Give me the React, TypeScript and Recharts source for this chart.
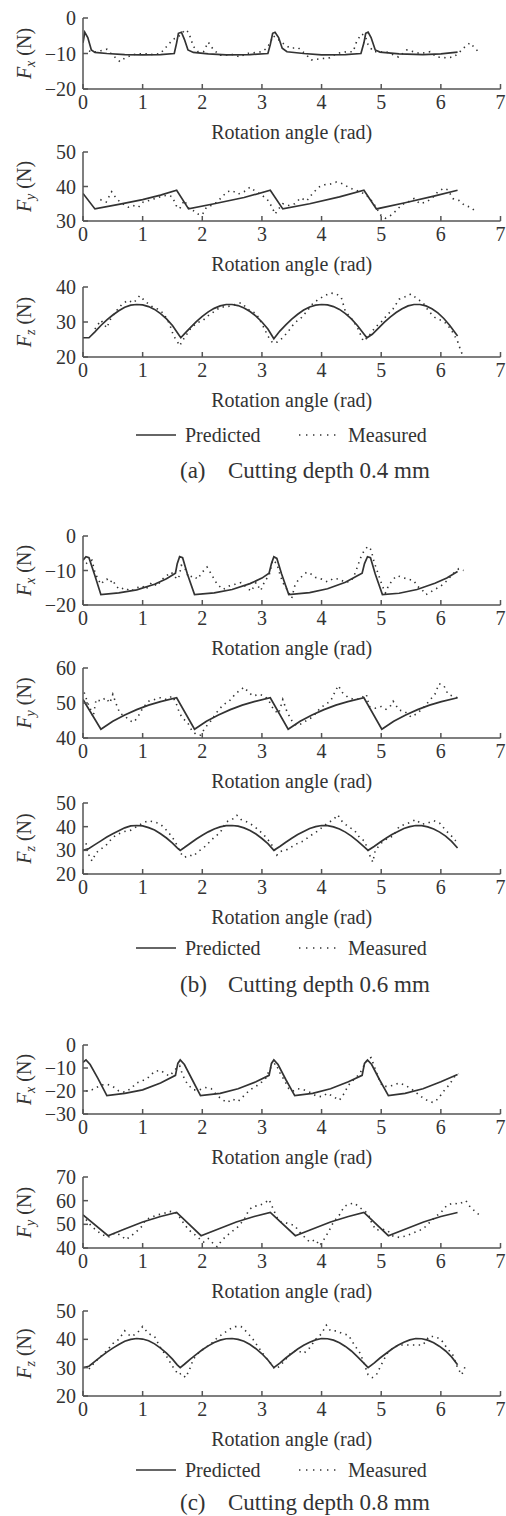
import React from "react";
import { Line, LineChart, XAxis, YAxis } from "recharts";

type Pt = [number, number];

const FONT = '"Liberation Serif", "Times New Roman", serif';
const INK = "#333";
const AXIS = "#555";

const angleTicks = [0, 1, 2, 3, 4, 5, 6, 7];
const xTitle = "Rotation angle (rad)";
const legendNames = ["Predicted", "Measured"];
const captions = [
  ["(a)", "Cutting depth 0.4 mm"],
  ["(b)", "Cutting depth 0.6 mm"],
  ["(c)", "Cutting depth 0.8 mm"],
];

// ---- depth 0.4 mm ----
const aFxPredicted: Pt[] = [
  [0, -7], [0.03, -4], [0.08, -5.5], [0.14, -9], [0.2, -9.7], [0.4, -10], [0.7, -10.3], [1.0, -10.4],
  [1.3, -10.3], [1.53, -10], [1.57, -7], [1.6, -4.3], [1.65, -4], [1.7, -6], [1.76, -9], [1.85, -9.7],
  [2.1, -10.1], [2.4, -10.4], [2.8, -10.3], [3.1, -10], [3.14, -7.5], [3.18, -4.3], [3.22, -4], [3.28, -5.5],
  [3.34, -8.5], [3.42, -9.5], [3.7, -10], [4.0, -10.4], [4.4, -10.3], [4.66, -10], [4.71, -7], [4.74, -4.3],
  [4.78, -4], [4.83, -5.5], [4.9, -9], [4.98, -9.6], [5.3, -10.1], [5.7, -10.3], [6.0, -10.1], [6.28, -9.6],
];
const aFxMeasured: Pt[] = [
  [0.1, -9.3], [0.2, -9.6], [0.3, -9.2], [0.4, -8.8], [0.5, -10.5], [0.62, -12.3], [0.7, -11.3], [0.84, -10.3],
  [1.0, -10], [1.18, -10.3], [1.3, -10], [1.35, -9], [1.43, -7.5], [1.51, -6], [1.58, -5.5], [1.65, -4.5],
  [1.71, -3.3], [1.77, -4], [1.85, -8], [1.93, -9.5], [2.02, -9.5], [2.1, -6.8], [2.19, -9], [2.3, -10.5],
  [2.52, -10.3], [2.63, -11], [2.74, -10], [2.86, -9.8], [3.0, -9.5], [3.08, -8.5], [3.14, -7], [3.19, -5],
  [3.27, -6], [3.36, -7.2], [3.47, -8.5], [3.61, -8.4], [3.72, -10], [3.83, -11.8], [3.97, -11.5], [4.14, -11.2],
  [4.25, -10], [4.42, -9.5], [4.53, -9.5], [4.59, -6.5], [4.67, -4.5], [4.73, -5], [4.78, -7.5], [4.87, -9.5],
  [5.09, -9.6], [5.29, -11], [5.43, -9], [5.65, -10], [5.82, -9.5], [5.93, -11], [6.1, -11.2], [6.21, -11],
  [6.29, -10], [6.41, -8], [6.49, -7], [6.57, -8.5], [6.66, -10],
];
const aFyPredicted: Pt[] = [
  [0, 38], [0.2, 33.5], [0.6, 34.8], [1.0, 36.2], [1.3, 37.5], [1.57, 38.9], [1.77, 33.5], [2.2, 35],
  [2.7, 36.8], [3.14, 38.9], [3.35, 33.5], [3.8, 35], [4.3, 37], [4.71, 38.9], [4.92, 33.5], [5.4, 35.3],
  [5.9, 37.3], [6.28, 38.9],
];
const aFyMeasured: Pt[] = [
  [0.29, 36.2], [0.39, 35.5], [0.48, 38.5], [0.54, 37], [0.62, 35.5], [0.76, 34], [0.84, 34.5], [0.93, 34],
  [1.01, 35.5], [1.12, 36], [1.24, 36.7], [1.35, 37.3], [1.43, 37.5], [1.5, 37], [1.56, 34.5], [1.62, 33.5],
  [1.7, 36], [1.78, 33.5], [1.85, 33], [1.93, 32], [2.0, 31.8], [2.07, 34], [2.15, 34.5], [2.25, 35.5],
  [2.33, 37], [2.42, 38.5], [2.5, 38.8], [2.6, 37.8], [2.7, 38.5], [2.8, 39.8], [2.9, 38.5], [3.0, 37.5],
  [3.1, 36], [3.17, 34], [3.22, 32], [3.28, 33.5], [3.35, 35], [3.45, 34.5], [3.55, 35], [3.65, 36.7],
  [3.75, 35.8], [3.85, 38], [3.95, 39.8], [4.05, 40.5], [4.15, 40.7], [4.25, 41.3], [4.35, 40.8], [4.45, 39.8],
  [4.55, 39], [4.65, 38.5], [4.75, 37.5], [4.85, 35.7], [4.93, 33.5], [5.0, 31.5], [5.07, 30.8], [5.15, 31.5],
  [5.25, 33], [5.35, 34.8], [5.45, 35.5], [5.55, 36.5], [5.65, 35], [5.75, 35.5], [5.85, 36.5], [5.95, 38.5],
  [6.05, 39.5], [6.12, 39], [6.2, 36.5], [6.3, 36], [6.4, 34.5], [6.5, 34], [6.6, 32.5],
];
const aFzPredicted: Pt[] = [
  [0, 25.5], [0.1, 25.5], [0.2, 27.2], [0.3, 29], [0.4, 30.6], [0.5, 32], [0.6, 33.2], [0.7, 34.2],
  [0.8, 34.8], [0.9, 35], [1.0, 34.9], [1.1, 34.4], [1.2, 33.6], [1.3, 32.4], [1.4, 30.9], [1.5, 29],
  [1.6, 26.5], [1.64, 25.5], [1.7, 26.6], [1.8, 28.4], [1.9, 30.1], [2.0, 31.6], [2.1, 32.9], [2.2, 33.9],
  [2.3, 34.6], [2.4, 35], [2.5, 35], [2.6, 34.7], [2.7, 34], [2.8, 33], [2.9, 31.7], [3.0, 30],
  [3.1, 28], [3.2, 25.2], [3.3, 27.4], [3.4, 29.2], [3.5, 30.8], [3.6, 32.2], [3.7, 33.4], [3.8, 34.3],
  [3.9, 34.8], [4.0, 35], [4.1, 34.9], [4.2, 34.4], [4.3, 33.6], [4.4, 32.4], [4.5, 30.9], [4.6, 29],
  [4.7, 26.8], [4.76, 25.5], [4.85, 26.5], [4.95, 28.2], [5.05, 29.9], [5.15, 31.4], [5.25, 32.7], [5.35, 33.8],
  [5.45, 34.6], [5.55, 35], [5.65, 35], [5.75, 34.6], [5.85, 33.8], [5.95, 32.6], [6.05, 31], [6.15, 29],
  [6.28, 26],
];
const aFzMeasured: Pt[] = [
  [0.2, 28], [0.3, 30.5], [0.4, 28.3], [0.45, 30.5], [0.55, 33], [0.65, 35], [0.75, 36.2], [0.85, 35.5],
  [0.95, 37.5], [1.05, 35.8], [1.15, 34.5], [1.25, 33.7], [1.35, 32.5], [1.45, 29.5], [1.52, 26], [1.58, 24.5],
  [1.62, 23.2], [1.7, 25.5], [1.8, 28], [1.9, 29.7], [2.0, 30.3], [2.1, 31.8], [2.2, 33], [2.3, 34.2],
  [2.45, 34.5], [2.55, 35], [2.65, 35.5], [2.8, 33.2], [2.9, 32.5], [3.0, 29.5], [3.1, 26], [3.18, 24],
  [3.26, 24.3], [3.35, 25.5], [3.45, 27.5], [3.55, 29.8], [3.65, 31], [3.75, 33], [3.85, 35.2], [3.95, 36.5],
  [4.05, 37.5], [4.15, 38.3], [4.25, 38], [4.33, 37], [4.4, 33], [4.5, 31], [4.6, 28.5], [4.7, 24.5],
  [4.78, 25.7], [4.9, 28.5], [5.0, 30], [5.1, 32], [5.2, 33.8], [5.3, 36.5], [5.4, 37.2], [5.5, 38],
  [5.6, 36.7], [5.7, 35.5], [5.8, 33], [5.9, 31.3], [6.0, 30.5], [6.1, 29.5], [6.2, 27], [6.28, 24.5],
  [6.33, 22], [6.37, 20.3],
];

// ---- depth 0.6 mm ----
const bFxPredicted: Pt[] = [
  [0, -7], [0.05, -6], [0.1, -6.3], [0.2, -11.5], [0.3, -17], [0.6, -16.5], [0.9, -15.6], [1.2, -14],
  [1.4, -12.4], [1.55, -10.8], [1.58, -8], [1.62, -6], [1.67, -6.3], [1.75, -11], [1.87, -17], [2.2, -16.5],
  [2.5, -15.5], [2.8, -13.8], [3.0, -12.2], [3.12, -10.8], [3.16, -8], [3.2, -6], [3.25, -6.5], [3.33, -11],
  [3.45, -17], [3.8, -16.4], [4.1, -15.3], [4.4, -13.4], [4.6, -11.5], [4.68, -10.8], [4.72, -8], [4.77, -6],
  [4.82, -6.3], [4.9, -11], [5.02, -17], [5.3, -16.6], [5.6, -15.5], [5.9, -13.7], [6.1, -12.2], [6.28, -10.3],
];
const bFxMeasured: Pt[] = [
  [0.05, -8], [0.15, -7], [0.2, -10.5], [0.25, -12.5], [0.3, -14], [0.35, -13], [0.4, -12.5], [0.45, -13.5],
  [0.5, -12.7], [0.55, -14.5], [0.62, -15.5], [0.7, -15], [0.8, -16], [0.9, -15], [1.0, -14.5], [1.05, -15.5],
  [1.15, -13.5], [1.25, -14.5], [1.3, -13], [1.4, -11.5], [1.48, -10.5], [1.55, -12], [1.6, -12.5], [1.65, -8.5],
  [1.7, -9], [1.77, -12], [1.85, -11.5], [1.92, -12.5], [2.0, -10.5], [2.08, -9], [2.15, -11], [2.25, -14],
  [2.35, -15.5], [2.45, -14.5], [2.55, -14], [2.65, -13.5], [2.75, -15], [2.82, -16], [2.9, -13.5], [2.98, -15.8],
  [3.05, -13], [3.12, -11.5], [3.18, -7], [3.25, -8], [3.3, -11], [3.35, -13.5], [3.42, -15.5], [3.5, -18],
  [3.55, -14.5], [3.6, -13], [3.68, -11.5], [3.75, -10.5], [3.82, -11], [3.9, -12], [4.0, -12.5], [4.1, -13.3],
  [4.2, -12.3], [4.3, -12.5], [4.4, -13.5], [4.5, -13], [4.55, -11.3], [4.6, -9], [4.65, -6.5], [4.72, -4],
  [4.78, -3], [4.83, -4], [4.88, -7.5], [4.95, -11], [5.02, -14.5], [5.07, -16.5], [5.12, -14.5], [5.2, -12.5],
  [5.27, -11.5], [5.35, -12], [5.45, -12.5], [5.55, -13], [5.6, -14.5], [5.68, -15.5], [5.75, -17], [5.82, -16.3],
  [5.9, -15.5], [6.0, -14.5], [6.1, -13], [6.2, -11], [6.3, -9.5], [6.38, -10],
];
const bFyPredicted: Pt[] = [
  [0, 51], [0.3, 42.5], [0.5, 44.8], [0.7, 46.6], [0.9, 48.1], [1.1, 49.4], [1.3, 50.4], [1.57, 51.5],
  [1.87, 42.5], [2.07, 44.8], [2.27, 46.6], [2.47, 48.1], [2.67, 49.4], [2.87, 50.4], [3.14, 51.5], [3.44, 42.5],
  [3.64, 44.8], [3.84, 46.6], [4.04, 48.1], [4.24, 49.4], [4.44, 50.4], [4.71, 51.5], [5.01, 42.5], [5.21, 44.8],
  [5.41, 46.6], [5.61, 48.1], [5.81, 49.4], [6.01, 50.4], [6.28, 51.5],
];
const bFyMeasured: Pt[] = [
  [0.02, 53], [0.08, 50], [0.12, 48.5], [0.17, 46], [0.22, 51], [0.3, 50.5], [0.38, 51.5], [0.45, 50],
  [0.5, 52.5], [0.55, 50], [0.62, 47], [0.7, 46.3], [0.78, 45], [0.85, 44.5], [0.92, 46], [1.0, 48.5],
  [1.1, 50.5], [1.2, 51], [1.3, 51.5], [1.4, 51], [1.5, 52], [1.56, 50], [1.62, 47], [1.68, 45.5],
  [1.75, 44.5], [1.83, 42], [1.9, 41], [1.97, 40.8], [2.05, 43], [2.15, 45], [2.25, 47.5], [2.35, 49.5],
  [2.45, 50.5], [2.55, 52.5], [2.62, 53.5], [2.7, 54.5], [2.78, 53], [2.85, 52], [2.95, 52.5], [3.05, 52],
  [3.12, 50.5], [3.2, 48], [3.28, 47], [3.35, 51], [3.42, 47.5], [3.5, 45], [3.58, 43.5], [3.65, 44],
  [3.75, 45], [3.85, 46], [3.95, 48], [4.05, 49.5], [4.15, 50.5], [4.22, 53], [4.28, 55], [4.35, 53],
  [4.45, 51.5], [4.55, 51], [4.65, 51.2], [4.75, 52.5], [4.8, 49], [4.9, 48.5], [5.0, 49], [5.08, 48.2],
  [5.15, 49], [5.2, 50.5], [5.3, 48], [5.4, 47.5], [5.5, 46], [5.6, 47], [5.7, 48.5], [5.8, 50.5],
  [5.9, 52.5], [5.97, 55.5], [6.05, 55], [6.12, 52.5], [6.2, 52], [6.28, 51.5],
];
const bFzPredicted: Pt[] = [
  [0, 30], [0.1, 30.8], [0.2, 32.4], [0.3, 34], [0.4, 35.6], [0.5, 37], [0.6, 38.3], [0.7, 39.5],
  [0.8, 40.3], [0.9, 40.5], [1.0, 40.3], [1.1, 39.6], [1.2, 38.6], [1.3, 37], [1.4, 35.2], [1.5, 33],
  [1.58, 31], [1.63, 30], [1.7, 31.2], [1.8, 33], [1.9, 34.8], [2.0, 36.4], [2.1, 37.8], [2.2, 39],
  [2.3, 39.9], [2.4, 40.4], [2.5, 40.5], [2.6, 40.2], [2.7, 39.5], [2.8, 38.4], [2.9, 36.9], [3.0, 35],
  [3.1, 32.8], [3.2, 30], [3.3, 31.6], [3.4, 33.4], [3.5, 35.1], [3.6, 36.7], [3.7, 38], [3.8, 39.2],
  [3.9, 40], [4.0, 40.5], [4.1, 40.4], [4.2, 39.9], [4.3, 39], [4.4, 37.7], [4.5, 36], [4.6, 34],
  [4.7, 31.8], [4.78, 30], [4.88, 31.6], [4.98, 33.4], [5.08, 35.1], [5.18, 36.7], [5.28, 38], [5.38, 39.2],
  [5.48, 40], [5.58, 40.5], [5.68, 40.4], [5.78, 39.9], [5.88, 39], [5.98, 37.7], [6.08, 36], [6.18, 33.8],
  [6.28, 31],
];
const bFzMeasured: Pt[] = [
  [0.05, 33], [0.1, 28], [0.15, 25.5], [0.22, 29], [0.3, 30.5], [0.4, 32.5], [0.5, 35.5], [0.6, 37],
  [0.7, 38], [0.8, 38.5], [0.9, 40], [1.0, 41.5], [1.1, 42.5], [1.2, 42], [1.3, 41], [1.4, 38.5],
  [1.5, 35.5], [1.58, 32], [1.63, 29], [1.7, 27], [1.78, 28], [1.85, 27.5], [1.93, 29.5], [2.02, 31],
  [2.1, 33], [2.2, 35.5], [2.3, 37.5], [2.4, 42], [2.5, 43], [2.58, 44.8], [2.65, 43], [2.75, 42],
  [2.85, 40.5], [2.95, 38.5], [3.05, 36], [3.15, 33], [3.2, 30.5], [3.25, 28], [3.3, 29.5], [3.4, 30],
  [3.5, 31.5], [3.6, 33], [3.7, 34], [3.8, 36], [3.9, 37.5], [4.0, 39.5], [4.1, 41.5], [4.2, 43],
  [4.27, 45], [4.35, 42], [4.45, 40], [4.55, 38.5], [4.65, 35], [4.72, 34], [4.78, 30], [4.82, 27],
  [4.86, 25], [4.9, 30], [5.0, 33], [5.1, 35], [5.2, 36], [5.3, 40], [5.4, 41], [5.5, 42],
  [5.58, 43], [5.68, 41], [5.78, 41.5], [5.88, 42.5], [5.98, 41.5], [6.08, 38.5], [6.18, 36], [6.25, 34],
];

// ---- depth 0.8 mm ----
const cFxPredicted: Pt[] = [
  [0, -7.5], [0.05, -6.5], [0.12, -8.5], [0.25, -14.5], [0.4, -22], [0.7, -21], [1.0, -19.5], [1.3, -16.5],
  [1.55, -13.2], [1.59, -8], [1.63, -6.5], [1.7, -8.5], [1.83, -15], [1.97, -22], [2.3, -21], [2.6, -19],
  [2.9, -16], [3.12, -13.2], [3.16, -8], [3.2, -6.5], [3.27, -8.5], [3.4, -15], [3.55, -22], [3.85, -21],
  [4.15, -19], [4.45, -16], [4.68, -13.2], [4.72, -8], [4.77, -6.5], [4.84, -8.5], [4.97, -15], [5.12, -22],
  [5.4, -21], [5.7, -19], [6.0, -16], [6.28, -12.8],
];
const cFxMeasured: Pt[] = [
  [0.05, -20], [0.15, -19.5], [0.3, -17.5], [0.4, -17], [0.5, -18], [0.6, -20], [0.7, -20.5], [0.8, -19],
  [0.9, -16.5], [1.0, -15.5], [1.1, -14], [1.2, -11.5], [1.3, -11], [1.38, -12.5], [1.45, -13.5], [1.52, -11.5],
  [1.57, -10], [1.62, -9], [1.67, -13], [1.75, -17], [1.85, -19.5], [1.95, -19.5], [2.05, -18.5], [2.15, -19],
  [2.25, -22], [2.35, -24], [2.42, -25], [2.5, -23.5], [2.6, -24.5], [2.7, -22], [2.8, -19.5], [2.9, -18],
  [3.0, -16], [3.08, -14], [3.12, -11], [3.17, -9], [3.23, -8], [3.3, -12], [3.38, -15.5], [3.45, -19],
  [3.52, -20], [3.6, -19], [3.7, -19.5], [3.8, -20.5], [3.9, -22], [4.0, -22.5], [4.1, -21], [4.2, -22.5],
  [4.3, -24], [4.38, -21], [4.45, -17.5], [4.52, -15.5], [4.6, -13.5], [4.65, -12], [4.72, -8.5], [4.78, -6],
  [4.83, -5.5], [4.88, -9], [4.95, -14], [5.02, -18], [5.1, -18], [5.2, -17.5], [5.3, -16.5], [5.4, -17.5],
  [5.5, -19], [5.6, -21], [5.7, -23], [5.8, -24.5], [5.87, -25], [5.95, -23.5], [6.05, -20], [6.15, -17],
  [6.22, -14], [6.3, -12.5],
];
const cFyPredicted: Pt[] = [
  [0, 54], [0.42, 45.2], [0.7, 48], [1.0, 51], [1.3, 53.3], [1.57, 55], [1.98, 45.2], [2.27, 48],
  [2.57, 51], [2.87, 53.3], [3.14, 55], [3.56, 45.2], [3.85, 48], [4.15, 51], [4.45, 53.3], [4.71, 55],
  [5.12, 45.2], [5.41, 48], [5.71, 51], [6.0, 53.3], [6.28, 55],
];
const cFyMeasured: Pt[] = [
  [0.05, 52], [0.15, 49], [0.3, 46], [0.42, 44.5], [0.55, 46.5], [0.65, 45], [0.72, 43.5], [0.8, 45],
  [0.9, 47], [1.0, 49.5], [1.05, 52], [1.15, 53], [1.25, 54], [1.35, 54.5], [1.45, 55.5], [1.55, 55],
  [1.62, 53], [1.7, 50], [1.78, 47.5], [1.88, 45.5], [1.95, 44], [2.02, 42.5], [2.1, 44], [2.18, 42],
  [2.25, 40.5], [2.32, 43], [2.4, 45], [2.5, 47], [2.6, 49], [2.7, 52], [2.78, 56], [2.85, 57.5],
  [2.95, 58], [3.05, 59], [3.12, 60.5], [3.18, 57], [3.25, 53], [3.32, 51], [3.42, 50.5], [3.55, 49.5],
  [3.62, 47], [3.7, 45], [3.8, 42.5], [3.9, 43.5], [3.97, 41], [4.05, 44], [4.12, 47], [4.2, 51],
  [4.3, 54], [4.38, 57.5], [4.45, 58.5], [4.55, 59], [4.62, 57.5], [4.7, 56], [4.78, 54.5], [4.85, 50],
  [4.92, 47.5], [5.0, 48], [5.1, 47.5], [5.2, 45], [5.3, 44.5], [5.4, 45], [5.5, 46], [5.6, 47],
  [5.7, 48], [5.8, 50.5], [5.9, 53], [6.0, 55], [6.1, 58], [6.2, 59], [6.3, 58.5], [6.42, 60],
  [6.5, 57], [6.6, 55], [6.68, 53],
];
const cFzPredicted: Pt[] = [
  [0, 30], [0.1, 30.5], [0.2, 32.2], [0.3, 33.9], [0.4, 35.5], [0.5, 36.9], [0.6, 38.2], [0.7, 39.3],
  [0.8, 40], [0.9, 40.3], [1.0, 40.1], [1.1, 39.5], [1.2, 38.4], [1.3, 36.9], [1.4, 35.1], [1.5, 33],
  [1.58, 31], [1.63, 30], [1.7, 31.2], [1.8, 33], [1.9, 34.7], [2.0, 36.3], [2.1, 37.7], [2.2, 38.9],
  [2.3, 39.7], [2.4, 40.2], [2.5, 40.3], [2.6, 40], [2.7, 39.3], [2.8, 38.2], [2.9, 36.7], [3.0, 34.9],
  [3.1, 32.7], [3.2, 30], [3.3, 31.6], [3.4, 33.4], [3.5, 35], [3.6, 36.6], [3.7, 37.9], [3.8, 39],
  [3.9, 39.8], [4.0, 40.3], [4.1, 40.2], [4.2, 39.7], [4.3, 38.8], [4.4, 37.5], [4.5, 35.9], [4.6, 33.9],
  [4.7, 31.8], [4.78, 30], [4.88, 31.6], [4.98, 33.4], [5.08, 35], [5.18, 36.6], [5.28, 37.9], [5.38, 39],
  [5.48, 39.8], [5.58, 40.3], [5.68, 40.2], [5.78, 39.7], [5.88, 38.8], [5.98, 37.5], [6.08, 35.9], [6.18, 33.8],
  [6.28, 31],
];
const cFzMeasured: Pt[] = [
  [0.1, 29.5], [0.2, 32], [0.3, 34], [0.4, 36], [0.5, 38.5], [0.6, 40], [0.7, 43], [0.8, 41],
  [0.9, 42], [1.0, 44.5], [1.1, 42], [1.2, 41], [1.3, 37], [1.4, 34], [1.5, 30.5], [1.55, 29],
  [1.6, 27.5], [1.65, 28], [1.72, 26.5], [1.78, 29], [1.85, 33], [1.95, 35.5], [2.05, 37], [2.15, 38.5],
  [2.25, 40.5], [2.35, 42], [2.45, 43.5], [2.55, 44.5], [2.65, 44.5], [2.75, 42.5], [2.85, 40], [2.95, 37],
  [3.05, 34], [3.15, 31.5], [3.22, 29.5], [3.3, 30.5], [3.4, 33], [3.5, 35.5], [3.6, 36], [3.7, 35],
  [3.8, 37], [3.9, 40], [4.0, 42], [4.08, 45], [4.15, 43], [4.25, 43], [4.35, 42], [4.45, 41.5],
  [4.55, 38], [4.65, 35], [4.72, 31], [4.78, 27.5], [4.85, 26.5], [4.92, 27.5], [5.0, 31], [5.1, 35],
  [5.2, 37], [5.3, 38], [5.4, 38], [5.5, 38], [5.6, 38], [5.7, 38], [5.8, 41], [5.9, 41],
  [6.0, 40], [6.1, 37], [6.2, 34.5], [6.28, 30], [6.35, 27.5], [6.42, 31],
];

const toRows = (pts: Pt[]) => pts.map(([x, y]) => ({ x, y }));

type PanelDef = {
  sub: string;
  top: number;
  bottom: number;
  domain: [number, number];
  ticks: number[];
  predicted: Pt[];
  measured: Pt[];
};

const panels: PanelDef[] = [
  { sub: "x", top: 18, bottom: 89, domain: [-20, 0], ticks: [-20, -10, 0], predicted: aFxPredicted, measured: aFxMeasured },
  { sub: "y", top: 152, bottom: 221, domain: [30, 50], ticks: [30, 40, 50], predicted: aFyPredicted, measured: aFyMeasured },
  { sub: "z", top: 287, bottom: 357, domain: [20, 40], ticks: [20, 30, 40], predicted: aFzPredicted, measured: aFzMeasured },
  { sub: "x", top: 536, bottom: 605, domain: [-20, 0], ticks: [-20, -10, 0], predicted: bFxPredicted, measured: bFxMeasured },
  { sub: "y", top: 668, bottom: 738, domain: [40, 60], ticks: [40, 50, 60], predicted: bFyPredicted, measured: bFyMeasured },
  { sub: "z", top: 803, bottom: 874, domain: [20, 50], ticks: [20, 30, 40, 50], predicted: bFzPredicted, measured: bFzMeasured },
  { sub: "x", top: 1045, bottom: 1114, domain: [-30, 0], ticks: [-30, -20, -10, 0], predicted: cFxPredicted, measured: cFxMeasured },
  { sub: "y", top: 1177, bottom: 1248, domain: [40, 70], ticks: [40, 50, 60, 70], predicted: cFyPredicted, measured: cFyMeasured },
  { sub: "z", top: 1311, bottom: 1396, domain: [20, 50], ticks: [20, 30, 40, 50], predicted: cFzPredicted, measured: cFzMeasured },
];

const legendTops = [435, 948, 1470];
const captionTops = [473, 987, 1505];

const fmt = (v: number) => (v < 0 ? `\u2212${Math.abs(v)}` : String(v));

const XTick = (props: any) => {
  const { x, y, payload } = props;
  return (
    <g>
      <line x1={x} x2={x} y1={y} y2={y - 5} stroke={AXIS} strokeWidth={1.5} />
      <text x={x} y={y + 20} textAnchor="middle" fontFamily={FONT} fontSize={20} fill={INK}>
        {payload.value}
      </text>
    </g>
  );
};

const YTick = (props: any) => {
  const { x, y, payload } = props;
  return (
    <g>
      <line x1={x} x2={x + 5} y1={y} y2={y} stroke={AXIS} strokeWidth={1.5} />
      <text x={x - 7} y={y + 7} textAnchor="end" fontFamily={FONT} fontSize={20} fill={INK}>
        {fmt(payload.value)}
      </text>
    </g>
  );
};

const YTitle = ({ viewBox, sub }: any) => {
  const cy = viewBox.y + viewBox.height / 2;
  return (
    <text
      x={31}
      y={cy}
      transform={`rotate(-90 31 ${cy})`}
      textAnchor="middle"
      fontFamily={FONT}
      fontSize={20}
      fill={INK}
    >
      <tspan fontStyle="italic">F</tspan>
      <tspan fontStyle="italic" fontSize={14} dy={4}>{sub}</tspan>
      <tspan dy={-4}> (N)</tspan>
    </text>
  );
};

const XTitle = ({ viewBox }: any) => (
  <text
    x={viewBox.x + viewBox.width / 2}
    y={viewBox.y + 50}
    textAnchor="middle"
    fontFamily={FONT}
    fontSize={20}
    fill={INK}
  >
    {xTitle}
  </text>
);

// room above each plot so the top tick label is not clipped
const MT = 16;

function Panel({ p }: { p: PanelDef }) {
  const plotH = p.bottom - p.top;
  return (
    <div style={{ position: "absolute", left: 0, top: p.top - MT }}>
      <LineChart
        width={506}
        height={plotH + MT + 60}
        margin={{ top: MT, right: 5.5, bottom: 0, left: 0 }}
      >
        <XAxis
          type="number"
          dataKey="x"
          domain={[0, 7]}
          ticks={angleTicks}
          interval={0}
          height={60}
          tickSize={0}
          tickMargin={0}
          tickLine={false}
          tick={<XTick />}
          axisLine={{ stroke: AXIS, strokeWidth: 1.5 }}
          allowDataOverflow
          label={{ content: <XTitle /> }}
        />
        <YAxis
          type="number"
          domain={p.domain}
          ticks={p.ticks}
          interval={0}
          width={83}
          tickSize={0}
          tickMargin={0}
          tickLine={false}
          tick={<YTick />}
          axisLine={{ stroke: AXIS, strokeWidth: 1.5 }}
          allowDataOverflow
          label={{ content: <YTitle sub={p.sub} /> }}
        />
        <Line
          data={toRows(p.measured)}
          dataKey="y"
          type="linear"
          stroke={INK}
          strokeWidth={1.6}
          strokeDasharray="1.4 4.4"
          dot={false}
          activeDot={false}
          isAnimationActive={false}
        />
        <Line
          data={toRows(p.predicted)}
          dataKey="y"
          type="linear"
          stroke={INK}
          strokeWidth={1.7}
          dot={false}
          activeDot={false}
          isAnimationActive={false}
        />
      </LineChart>
    </div>
  );
}

function LegendRow({ top }: { top: number }) {
  return (
    <svg width={506} height={30} style={{ position: "absolute", left: 0, top: top - 15 }}>
      <line x1={136} x2={176} y1={15} y2={15} stroke={INK} strokeWidth={1.6} />
      <text x={185} y={22} fontFamily={FONT} fontSize={20} fill={INK}>{legendNames[0]}</text>
      <line x1={299} x2={341} y1={15} y2={15} stroke={INK} strokeWidth={1.6} strokeDasharray="1.4 5.6" />
      <text x={348} y={22} fontFamily={FONT} fontSize={20} fill={INK}>{legendNames[1]}</text>
    </svg>
  );
}

// caption baseline sits 5px below the given centre line
function Caption({ top, idx }: { top: number; idx: number }) {
  return (
    <svg width={506} height={30} style={{ position: "absolute", left: 0, top: top - 20 }}>
      <text x={180} y={25} fontFamily={FONT} fontSize={23} fill={INK}>{captions[idx][0]}</text>
      <text x={228} y={25} fontFamily={FONT} fontSize={23} fill={INK}>{captions[idx][1]}</text>
    </svg>
  );
}

export default function App() {
  return (
    <div style={{ position: "absolute", left: 0, top: 0, width: 506, height: 1516, background: "#fff", overflow: "hidden" }}>
      {panels.map((p, i) => (
        <Panel key={i} p={p} />
      ))}
      {legendTops.map((t, i) => (
        <LegendRow key={i} top={t} />
      ))}
      {captionTops.map((t, i) => (
        <Caption key={i} top={t} idx={i} />
      ))}
    </div>
  );
}
